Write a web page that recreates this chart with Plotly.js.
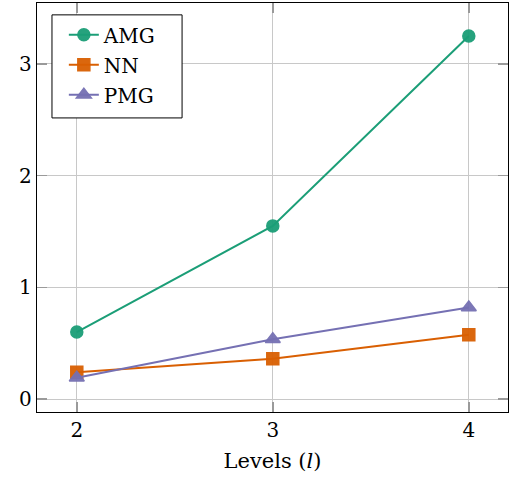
<!DOCTYPE html>
<html><head><meta charset="utf-8">
<script src="https://cdn.plot.ly/plotly-3.0.1.min.js"></script>
<style>html,body{margin:0;padding:0;background:#fff}</style>
</head><body><div id="chart" style="width:509px;height:484px"></div>
<script>
const levels = [2, 3, 4];
const amg = [0.60, 1.55, 3.25];
const nn = [0.24, 0.36, 0.575];
const pmg = [0.19, 0.535, 0.82];
const tickVals = [2, 3, 4];
const yTickVals = [0, 1, 2, 3];

const FAMILY = '"DejaVu Serif", serif';
function mkFont(size) { return {family: FAMILY, size: size, color: '#000'}; }

function series(name, y, color, symbol, size) {
  return {
    x: levels, y: y, name: name, legendgroup: name, type: 'scatter', mode: 'lines+markers',
    line: {color: color, width: 2},
    marker: {color: color, symbol: symbol, size: size, line: {color: color, width: 1.5}, opacity: 0.95}
  };
}
const data = [
  series('AMG', amg, '#1b9e77', 'circle', 12),
  series('NN', nn, '#d95f02', 'square', 12),
  series('PMG', pmg, '#7570b3', 'triangle-up', 13)
];
function axisCommon() {
  return {
    showline: true, linecolor: '#000', linewidth: 1.2, mirror: 'ticks',
    ticks: 'inside', ticklen: 10, tickcolor: '#9a9a9a', tickwidth: 1.5,
    showgrid: true, gridcolor: '#c8c8c8', gridwidth: 1, zeroline: false,
    tickfont: mkFont(20)
  };
}
const layout = {
  width: 509, height: 484,
  margin: {l: 37, r: 1, t: 3, b: 72},
  paper_bgcolor: '#fff', plot_bgcolor: '#fff',
  font: mkFont(20),
  showlegend: true,
  legend: {
    x: 0.057, y: 0.970, xanchor: 'left', yanchor: 'top',
    borderwidth: 0, bgcolor: 'rgba(0,0,0,0)',
    font: mkFont(20),
    tracegroupgap: 1, itemwidth: 30
  },
  shapes: [{
    type: 'rect', xref: 'paper', yref: 'paper', layer: 'above',
    x0: 0.0318, x1: 0.308, y0: 0.719, y1: 0.971,
    fillcolor: '#fff', line: {color: '#000', width: 1}
  }],
  xaxis: Object.assign(axisCommon(), {
    range: [1.797, 4.2], tickvals: tickVals, ticktext: tickVals.map(String),
    title: {text: 'Levels (<i>l</i>)', font: mkFont(21), standoff: 12}
  }),
  yaxis: Object.assign(axisCommon(), {
    range: [-0.116, 3.545], tickvals: yTickVals, ticktext: yTickVals.map(String)
  })
};
Plotly.newPlot('chart', data, layout, {displayModeBar: false, staticPlot: true});
</script></body></html>
